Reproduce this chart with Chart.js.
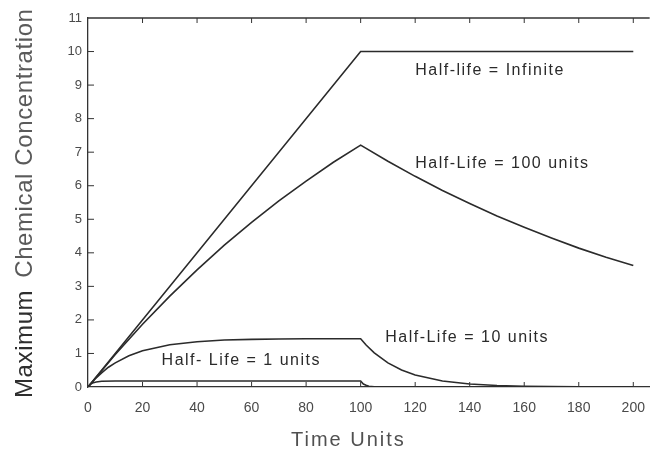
<!DOCTYPE html>
<html><head><meta charset="utf-8">
<script src="https://cdn.jsdelivr.net/npm/chart.js@4.4.1/dist/chart.umd.min.js"></script>
<style>html,body{margin:0;padding:0;background:#fff}#wrap{width:658px;height:450px}</style>
</head><body><div id="wrap"><canvas id="c" width="658" height="450"></canvas></div>
<script>
// ---- data ----
const xTicks = [0,20,40,60,80,100,120,140,160,180,200];
const yTicks = [0,1,2,3,4,5,6,7,8,9,10,11];

const timeInfinite = [0,100,200];
const concInfinite = [0,10,10];

const time100 = [0,10,20,30,40,50,60,70,80,90,100,110,120,130,140,150,160,170,180,190,200];
const conc100 = [0,0.97,1.87,2.71,3.49,4.23,4.91,5.55,6.14,6.70,7.21,6.73,6.28,5.86,5.47,5.10,4.76,4.44,4.14,3.87,3.62];

const time10 = [0,2.5,5,7.5,10,15,20,30,40,50,60,70,80,90,100,102,105,110,115,120,130,140,150,160,170,180,190,200];
const conc10 = [0,0.23,0.42,0.59,0.72,0.93,1.08,1.26,1.35,1.40,1.42,1.43,1.44,1.44,1.44,1.25,1.02,0.72,0.51,0.36,0.18,0.09,0.045,0.023,0.011,0.006,0.003,0.001];

const time1 = [0,1,2,3,5,10,100,101,102,103,105,110,200];
const conc1 = [0,0.09,0.13,0.15,0.17,0.18,0.18,0.09,0.05,0.02,0.005,0,0];

const curveLabels = ["Half-life = Infinite","Half-Life = 100 units","Half-Life = 10 units","Half- Life = 1 units"];
const labelAnchorX = [120,120,109,27];
const labelAnchorY = [9.43,6.66,1.46,0.78];

const yTitleBold = "Maximum";
const yTitleRest = "Chemical Concentration";
const xTitle = "Time Units";

const pts = (xs, ys) => xs.map((x,i)=>({x:x, y:ys[i]}));
const LINE = '#2b2b2b';
const FONT = '"Liberation Sans", Arial, sans-serif';
const ds = (name, xs, ys) => ({label:name, data:pts(xs,ys), borderColor:LINE, borderWidth:1.6, pointRadius:0, tension:0, fill:false});

const decor = {
  id:'decor',
  afterDraw(chart){
    const {ctx, chartArea:a, scales:{x, y}} = chart;
    ctx.save();
    ctx.strokeStyle = '#333'; ctx.lineWidth = 1.3;
    // top border
    ctx.beginPath(); ctx.moveTo(a.left, a.top); ctx.lineTo(a.right, a.top); ctx.stroke();
    // inward ticks
    ctx.lineWidth = 1;
    xTicks.forEach(v=>{ if(v===0) return; const px = x.getPixelForValue(v);
      ctx.beginPath(); ctx.moveTo(px, a.bottom); ctx.lineTo(px, a.bottom-5); ctx.stroke();
      ctx.beginPath(); ctx.moveTo(px, a.top); ctx.lineTo(px, a.top+5); ctx.stroke(); });
    yTicks.forEach(v=>{ if(v===0||v===11) return; const py = y.getPixelForValue(v);
      ctx.beginPath(); ctx.moveTo(a.left, py); ctx.lineTo(a.left+6, py); ctx.stroke(); });
    // curve labels
    ctx.fillStyle = '#2a2a2a';
    ctx.font = '16px ' + FONT;
    ctx.letterSpacing = '1.5px';
    ctx.textBaseline = 'middle'; ctx.textAlign = 'left';
    curveLabels.forEach((t,i)=>{
      ctx.fillText(t, x.getPixelForValue(labelAnchorX[i]), y.getPixelForValue(labelAnchorY[i]));
    });
    // y title (rotated, mixed weight)
    ctx.save();
    ctx.translate(32, 398); ctx.rotate(-Math.PI/2);
    ctx.textAlign = 'left'; ctx.textBaseline = 'alphabetic';
    ctx.letterSpacing = '0.6px';
    ctx.fillStyle = '#2e2e2e';
    ctx.font = '24px ' + FONT;
    ctx.fillText(yTitleBold, 0, 0);
    const w = ctx.measureText(yTitleBold).width + 12;
    ctx.fillStyle = '#5a5a5a';
    ctx.font = '300 24px ' + FONT;
    ctx.fillText(yTitleRest, w, 0);
    ctx.restore();
    // x title
    ctx.fillStyle = '#505050';
    ctx.font = '300 20px ' + FONT;
    ctx.letterSpacing = '2px';
    ctx.textAlign = 'left'; ctx.textBaseline = 'alphabetic';
    ctx.fillText(xTitle, 291, 446);
    ctx.restore();
  }
};

new Chart(document.getElementById('c'), {
  type:'line',
  data:{datasets:[
    ds('Infinite', timeInfinite, concInfinite),
    ds('100', time100, conc100),
    ds('10', time10, conc10),
    ds('1', time1, conc1)
  ]},
  options:{
    responsive:false, animation:false, devicePixelRatio:1,
    layout:{padding:{top:18, right:1, left:0, bottom:0}},
    plugins:{legend:{display:false}, tooltip:{enabled:false}},
    scales:{
      x:{type:'linear', min:0, max:206,
        afterBuildTicks(s){ s.ticks = xTicks.map(v=>({value:v})); },
        afterFit(s){ s.height = 63; },
        grid:{display:false, drawTicks:false},
        border:{display:true, color:'#333', width:1.3},
        ticks:{color:'#4a4a4a', font:{size:14, family:FONT}, padding:13, maxRotation:0}
      },
      y:{type:'linear', min:0, max:11,
        afterBuildTicks(s){ s.ticks = yTicks.map(v=>({value:v})); },
        afterFit(s){ s.width = 88; },
        grid:{display:false, drawTicks:false},
        border:{display:true, color:'#333', width:1.3},
        ticks:{color:'#4a4a4a', font:{size:13, family:FONT}, padding:6}
      }
    }
  },
  plugins:[decor]
});
</script></body></html>
